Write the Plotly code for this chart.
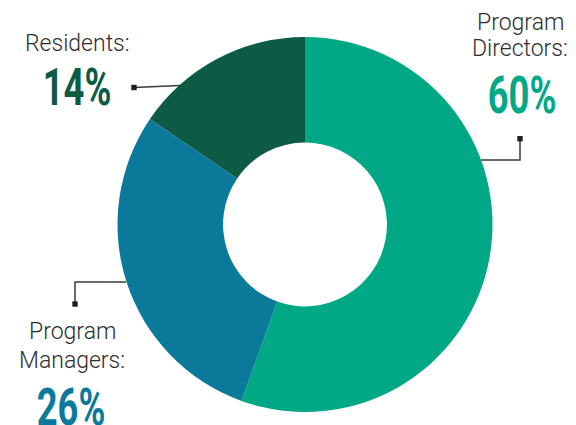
import plotly.graph_objects as go

# Data
categories = ["Program Directors", "Program Managers", "Residents"]
slice_values = [55.5, 29.0, 15.5]          # slice sizes as drawn
label_lines = [["Program", "Directors:"], ["Program", "Managers:"], ["Residents:"]]
pct_labels = ["60%", "26%", "14%"]
colors = ["#00A886", "#0B7A9A", "#0E5B45"]

W, H = 576, 425

fig = go.Figure(go.Pie(
    labels=categories,
    values=slice_values,
    hole=0.437,
    sort=False,
    direction="clockwise",
    rotation=0,
    marker=dict(colors=colors, line=dict(width=0)),
    textinfo="none",
    hoverinfo="label+percent",
    showlegend=False,
    domain=dict(x=[(305 - 187.5) / W, (305 + 187.5) / W],
                y=[1 - 412 / H, 1 - 37 / H]),
))

def px(x):
    return x / W

def py(y):
    return 1 - y / H

label_font = dict(family="Roboto, Inter, sans-serif", size=23, color="#2E2E2E", weight=300)
pct_font = dict(family="Roboto, Noto Sans, sans-serif", size=52, weight=700)

annotations = []
label_pos = [
    [(520, 23), (520, 49)],
    [(72, 331), (72, 360)],
    [(77, 43)],
]
pct_pos = [(522, 96), (71, 407), (77, 88)]

for i in range(len(categories)):
    for line, (lx, ly) in zip(label_lines[i], label_pos[i]):
        annotations.append(dict(
            x=px(lx), y=py(ly), xref="paper", yref="paper",
            text=line, showarrow=False, xanchor="center", yanchor="middle",
            font=label_font,
        ))
    annotations.append(dict(
        x=px(pct_pos[i][0]), y=py(pct_pos[i][1]), xref="paper", yref="paper",
        text=pct_labels[i], showarrow=False,
        xanchor="center", yanchor="middle",
        font=dict(pct_font, color=colors[i]),
    ))

line_style = dict(color="#3A3A3A", width=1.5)
shapes = []
shapes.append(dict(type="path", xref="paper", yref="paper",
                   path=f"M {px(481)},{py(160)} L {px(520)},{py(160)} L {px(520)},{py(139)}",
                   line=line_style))
shapes.append(dict(type="path", xref="paper", yref="paper",
                   path=f"M {px(126)},{py(282)} L {px(75)},{py(282)} L {px(75)},{py(304)}",
                   line=line_style))
shapes.append(dict(type="line", xref="paper", yref="paper",
                   x0=px(134), y0=py(87.5), x1=px(180), y1=py(85.5),
                   line=line_style))
for (cx, cy) in [(520, 138.7), (75, 304), (134, 87.5)]:
    shapes.append(dict(type="rect", xref="paper", yref="paper",
                       x0=px(cx - 2.7), x1=px(cx + 2.7),
                       y0=py(cy - 2.7), y1=py(cy + 2.7),
                       fillcolor="#1E1E1E", line=dict(width=0)))

fig.update_layout(
    width=W, height=H,
    margin=dict(l=0, r=0, t=0, b=0),
    paper_bgcolor="white",
    plot_bgcolor="white",
    annotations=annotations,
    shapes=shapes,
)

# condense the big percentage labels horizontally (text stays real text)
post = """
document.body.style.margin='0';
document.body.style.overflow='hidden';
document.querySelectorAll('text.annotation-text').forEach(function(t){
  if (t.textContent.trim().endsWith('%')) {
    var cx = parseFloat(t.getAttribute('x')) || 0;
    t.setAttribute('transform', 'translate(' + cx + ',0) scale(0.7,1) translate(' + (-cx) + ',0)');
  }
});
"""

fig.write_html("out.html", post_script=post, config={"displayModeBar": False})
